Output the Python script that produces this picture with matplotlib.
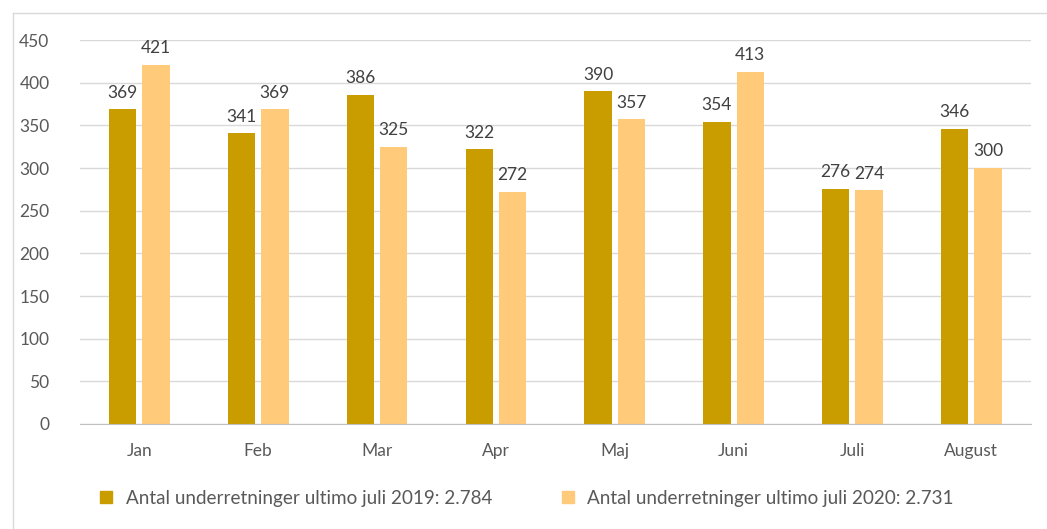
import numpy as np
import matplotlib
matplotlib.use("Agg")
import matplotlib.pyplot as plt
from matplotlib.lines import Line2D

months = ['Jan', 'Feb', 'Mar', 'Apr', 'Maj', 'Juni', 'Juli', 'August']
values_2019 = [369, 341, 386, 322, 390, 354, 276, 346]
values_2020 = [421, 369, 325, 272, 357, 413, 274, 300]
label_2019 = 'Antal underretninger ultimo juli 2019: 2.784'
label_2020 = 'Antal underretninger ultimo juli 2020: 2.731'
y_ticks = [0, 50, 100, 150, 200, 250, 300, 350, 400, 450]

dark = '#C99C00'
light = '#FFCA7A'
text_col = '#595959'

plt.rcParams['font.family'] = ['Lato', 'DejaVu Sans']

fig = plt.figure(figsize=(10.47, 5.29), dpi=100)
ax = fig.add_axes([0.0764, 0.1985, 0.908, 0.7258])

x = np.arange(len(months))
w = 0.23
off = 0.14
b1 = ax.bar(x - off, values_2019, w, color=dark, label=label_2019, zorder=2)
b2 = ax.bar(x + off, values_2020, w, color=light, label=label_2020, zorder=2)

for bars in (b1, b2):
    for r in bars:
        ax.text(r.get_x() + r.get_width() / 2, r.get_height() + 10, str(int(r.get_height())),
                ha='center', va='bottom', fontsize=12.5, color='#404040', clip_on=False)

ax.set_xlim(-0.5, len(months) - 0.5)
ax.set_ylim(0, 450)
ax.set_yticks(y_ticks)
ax.set_xticks(x)
ax.set_xticklabels(months)
ax.tick_params(axis='both', length=0, labelsize=12.5, colors=text_col)
ax.tick_params(axis='y', pad=22)
ax.tick_params(axis='x', pad=14)
ax.yaxis.grid(True, color='#D9D9D9', linewidth=1, zorder=0)
for s in ['top', 'right', 'left']:
    ax.spines[s].set_visible(False)
ax.spines['bottom'].set_color('#BFBFBF')

handles = [Line2D([], [], marker='s', linestyle='none', markersize=9, color=dark),
           Line2D([], [], marker='s', linestyle='none', markersize=9, color=light)]
fig.legend(handles, [label_2019, label_2020], loc='center', bbox_to_anchor=(0.497, 0.058),
           ncol=2, frameon=False, fontsize=13.6, handletextpad=0.05, columnspacing=3.0,
           labelcolor=text_col)

# light border on left and top
fig.add_artist(Line2D([0.012, 0.012], [0, 0.975], transform=fig.transFigure, color='#D9D9D9', lw=1))
fig.add_artist(Line2D([0.012, 1.0], [0.975, 0.975], transform=fig.transFigure, color='#D9D9D9', lw=1))

fig.savefig('out.png', dpi=100)
